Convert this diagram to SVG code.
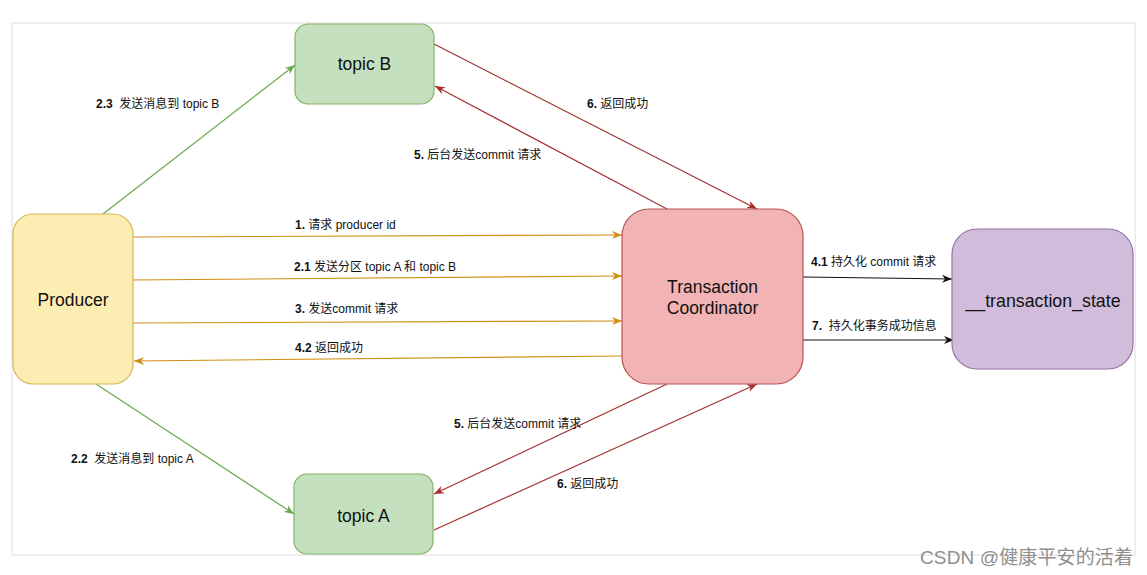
<svg xmlns="http://www.w3.org/2000/svg" width="1147" height="575" viewBox="0 0 1147 575">
<style>
text{font-family:"Liberation Sans","Noto Sans CJK SC",sans-serif;fill:#111}
.nl{font-size:17.5px;text-anchor:middle}
.el{font-size:12px}
.b{font-weight:bold}
.ln{fill:none;stroke-width:1.2}
.or{stroke:#d08f14}
.gr{stroke:#6aa84f}
.rd{stroke:#a5302f}
.bk{stroke:#111}
</style>
<defs>
<marker id="mo" markerUnits="userSpaceOnUse" markerWidth="11" markerHeight="9" refX="10" refY="4.5" orient="auto"><path d="M0,0.5 L10,4.5 L0,8.5 L3,4.5 z" fill="#d08f14"/></marker>
<marker id="mg" markerUnits="userSpaceOnUse" markerWidth="11" markerHeight="9" refX="10" refY="4.5" orient="auto"><path d="M0,0.5 L10,4.5 L0,8.5 L3,4.5 z" fill="#6aa84f"/></marker>
<marker id="mr" markerUnits="userSpaceOnUse" markerWidth="11" markerHeight="9" refX="10" refY="4.5" orient="auto"><path d="M0,0.5 L10,4.5 L0,8.5 L3,4.5 z" fill="#a5302f"/></marker>
<marker id="mk" markerUnits="userSpaceOnUse" markerWidth="11" markerHeight="9" refX="10" refY="4.5" orient="auto"><path d="M0,0.5 L10,4.5 L0,8.5 L3,4.5 z" fill="#111"/></marker>
</defs>
<rect x="0" y="0" width="1147" height="575" fill="#fff"/>
<rect x="12" y="23" width="1123" height="532" fill="#fff" stroke="#eeeeee" stroke-width="2"/>

<g id="connectors">
<line class="ln gr" x1="103" y1="214" x2="295" y2="65" marker-end="url(#mg)"/>
<line class="ln gr" x1="96" y1="384" x2="294" y2="514" marker-end="url(#mg)"/>
<line class="ln or" x1="133" y1="237" x2="622" y2="235" marker-end="url(#mo)"/>
<line class="ln or" x1="133" y1="280" x2="622" y2="276" marker-end="url(#mo)"/>
<line class="ln or" x1="133" y1="323" x2="622" y2="321" marker-end="url(#mo)"/>
<line class="ln or" x1="622" y1="356" x2="134" y2="361" marker-end="url(#mo)"/>
<line class="ln bk" x1="803" y1="277" x2="952" y2="279" marker-end="url(#mk)"/>
<line class="ln bk" x1="803" y1="340" x2="954" y2="340" marker-end="url(#mk)"/>
<line class="ln rd" x1="434" y1="44" x2="757" y2="209" marker-end="url(#mr)"/>
<line class="ln rd" x1="667" y1="209" x2="435" y2="86" marker-end="url(#mr)"/>
<line class="ln rd" x1="667" y1="384" x2="434" y2="494" marker-end="url(#mr)"/>
<line class="ln rd" x1="434" y1="530" x2="757" y2="384" marker-end="url(#mr)"/>
</g>

<g id="edge-labels">
<text class="el" x="96" y="108" xml:space="preserve"><tspan class="b">2.3</tspan>  发送消息到 topic B</text>
<text class="el" x="71" y="463" xml:space="preserve"><tspan class="b">2.2</tspan>  发送消息到 topic A</text>
<text class="el" x="295" y="229"><tspan class="b">1.</tspan> 请求 producer id</text>
<text class="el" x="294" y="271"><tspan class="b">2.1</tspan> 发送分区 topic A 和 topic B</text>
<text class="el" x="295" y="313"><tspan class="b">3.</tspan> 发送commit 请求</text>
<text class="el" x="295" y="352"><tspan class="b">4.2</tspan> 返回成功</text>
<text class="el" x="811" y="266"><tspan class="b">4.1</tspan> 持久化 commit 请求</text>
<text class="el" x="812" y="330" xml:space="preserve"><tspan class="b">7.</tspan>  持久化事务成功信息</text>
<text class="el" x="414" y="159"><tspan class="b">5.</tspan> 后台发送commit 请求</text>
<text class="el" x="587" y="108"><tspan class="b">6.</tspan> 返回成功</text>
<text class="el" x="454" y="428"><tspan class="b">5.</tspan> 后台发送commit 请求</text>
<text class="el" x="557" y="488"><tspan class="b">6.</tspan> 返回成功</text>
</g>

<g id="producer">
<rect x="13" y="214" width="120" height="170" rx="20" fill="#fcedb3" stroke="#d6b656" stroke-width="1.2"/>
<text class="nl" x="73" y="306">Producer</text>
</g>
<g id="topicB">
<rect x="295" y="24" width="139" height="80" rx="13" fill="#c4e0be" stroke="#82b366" stroke-width="1.2"/>
<text class="nl" x="364.5" y="70">topic B</text>
</g>
<g id="topicA">
<rect x="294" y="474" width="139" height="80" rx="13" fill="#c4e0be" stroke="#82b366" stroke-width="1.2"/>
<text class="nl" x="363.5" y="522">topic A</text>
</g>
<g id="coordinator">
<rect x="622" y="209" width="181" height="175" rx="27" fill="#f1b3b3" stroke="#b85450" stroke-width="1.2"/>
<text class="nl" x="712.5" y="293">Transaction</text>
<text class="nl" x="712.5" y="314">Coordinator</text>
</g>
<g id="transaction_state">
<rect x="952" y="229" width="181" height="140" rx="25" fill="#d1bddb" stroke="#9673a6" stroke-width="1.2"/>
<text class="nl" x="1043" y="307" style="font-size:17.8px">__transaction_state</text>
</g>

<text x="920" y="564" font-size="19" textLength="213" style="fill:#8f8f8f">CSDN @健康平安的活着</text>
</svg>
